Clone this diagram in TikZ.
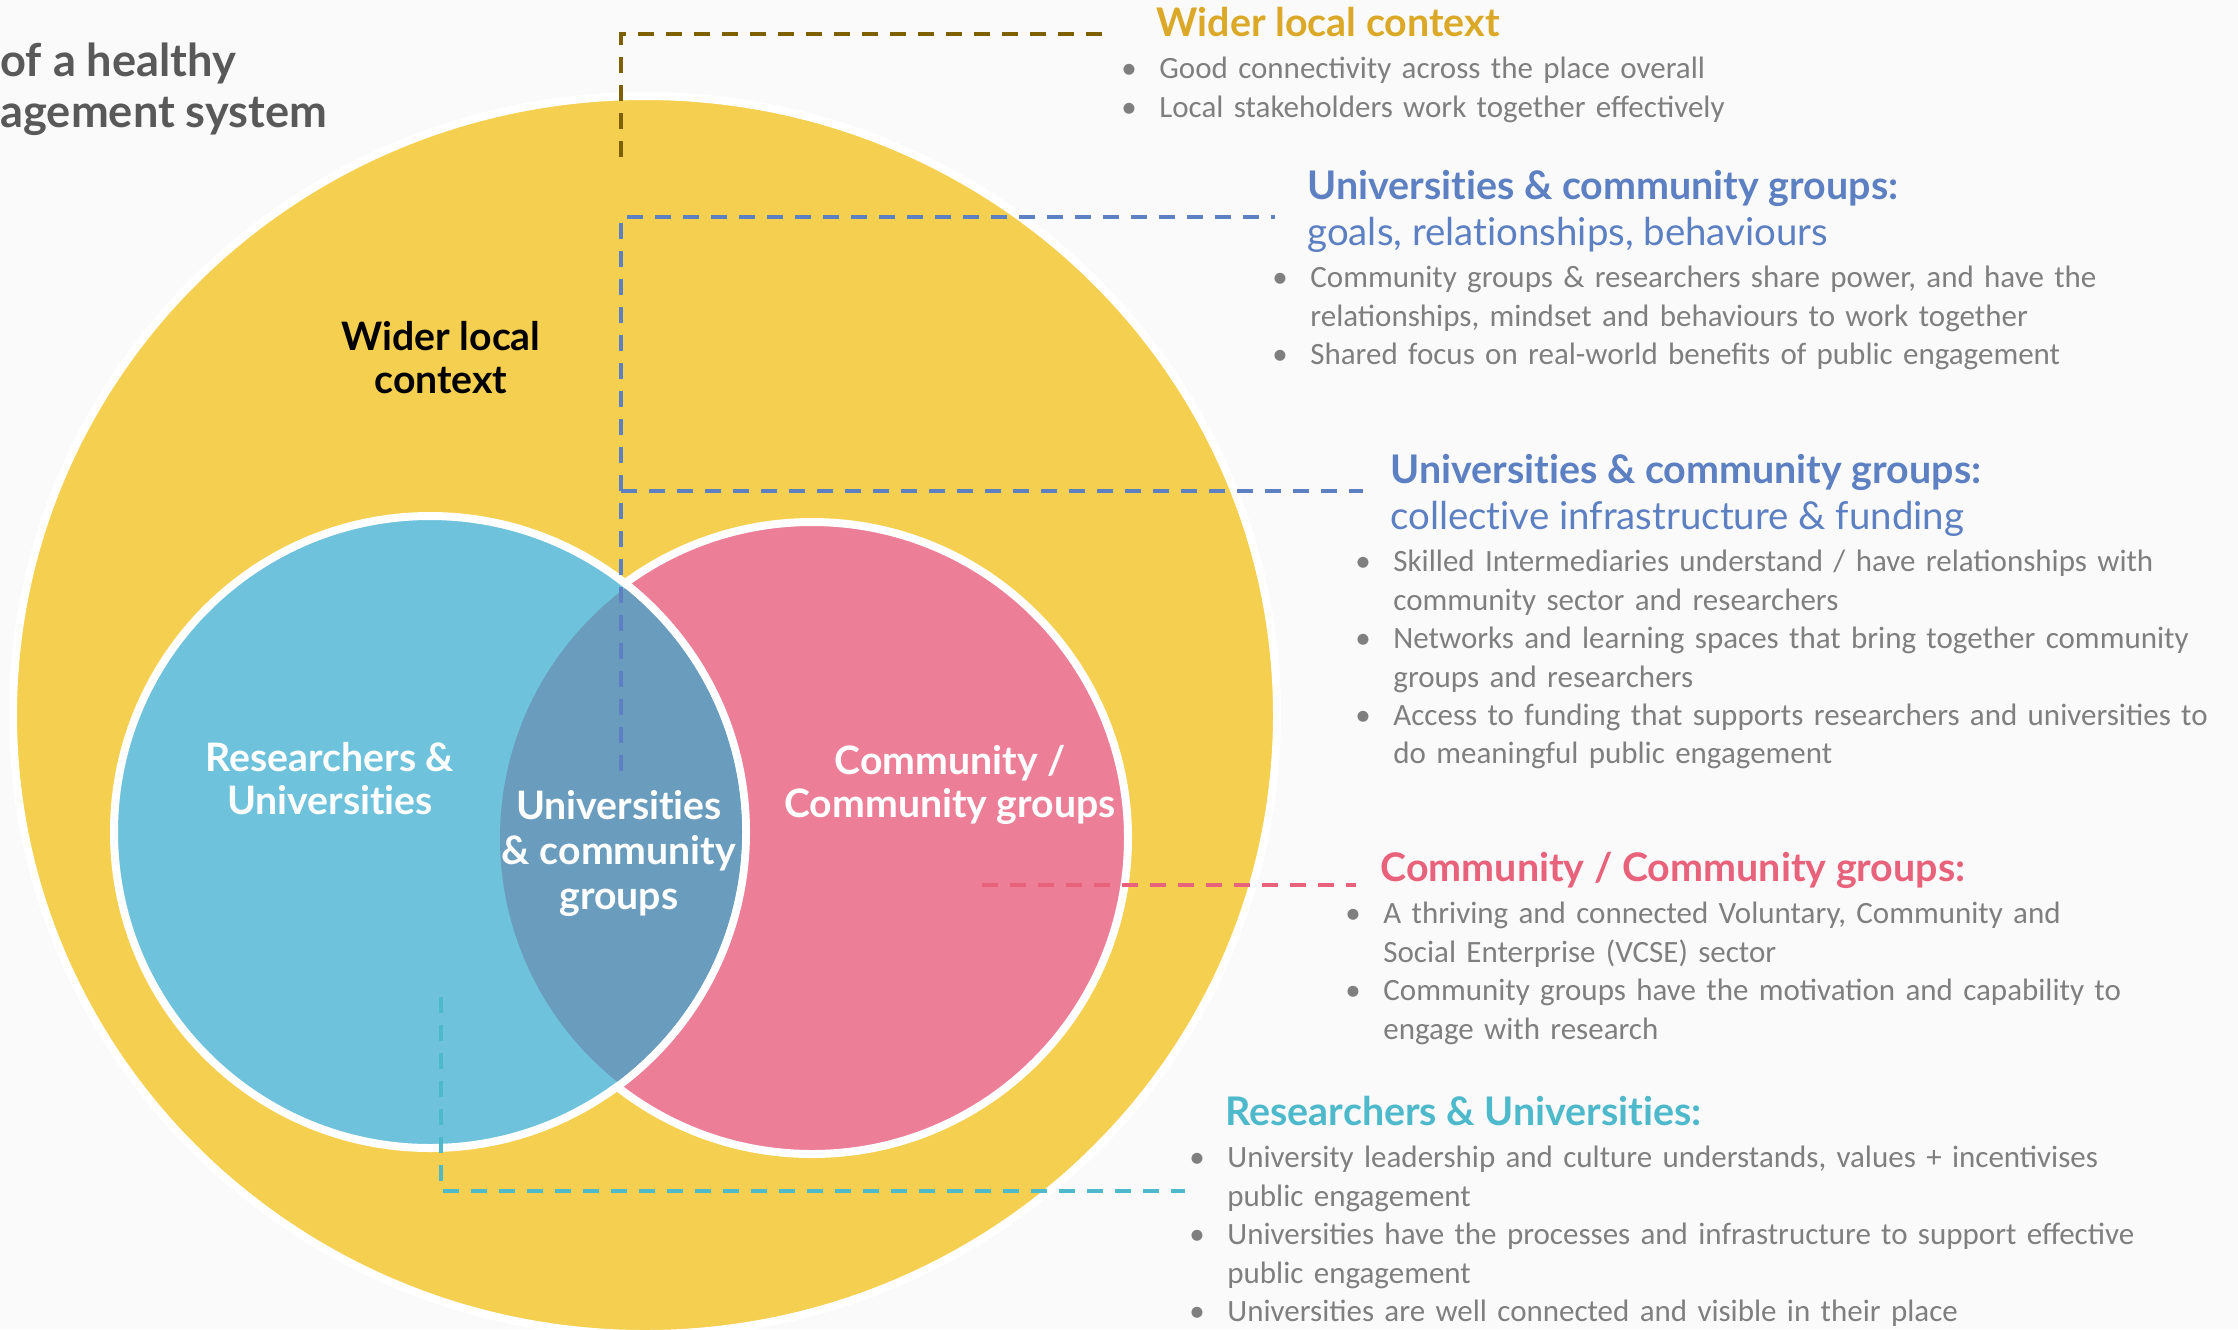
\documentclass[tikz,border=0pt]{standalone}
\usepackage{fontspec}
\setmainfont{Carlito}
\newfontfamily\headfont[Ligatures=NoCommon]{Lato}
\usetikzlibrary{positioning, shapes.geometric}

\definecolor{pageBg}{HTML}{FAFAFA}
\definecolor{widerYellow}{HTML}{F5CF4F}
\definecolor{resBlue}{HTML}{6EC2DC}
\definecolor{comPink}{HTML}{EC7F97}
\definecolor{lensBlue}{HTML}{6A9CBD}
\definecolor{goldHead}{HTML}{DBA927}
\definecolor{brownLine}{HTML}{7F6000}
\definecolor{uniBlue}{HTML}{5C80C2}
\definecolor{pinkHead}{HTML}{E8627C}
\definecolor{cyanHead}{HTML}{4DB9CB}
\definecolor{bodyGrey}{HTML}{7F7F7F}
\definecolor{titleGrey}{HTML}{595959}

% one bullet point with a hanging indent
\newcommand{\bpt}[1]{\par\hangindent=19pt\hangafter=1\noindent
  \makebox[19pt][l]{\textbullet}\strut#1\par}

\begin{document}
\begin{tikzpicture}[x=0.5pt, y=-0.5pt,
  head/.style={anchor=base west, inner sep=0pt,
    font=\headfont\bfseries\fontsize{19.7}{23}\selectfont},
  subhead/.style={anchor=base west, inner sep=0pt,
    font=\headfont\fontsize{19.2}{23}\selectfont},
  blist/.style={anchor=north west, inner sep=0pt, align=left, text=bodyGrey,
    font=\fontsize{15.5}{19.2}\selectfont},
  zone/.style={circle, draw=white, line width=4pt, minimum size=316pt,
    inner sep=0pt},
  zonelabel/.style={align=center, inner sep=0pt,
    font=\headfont\bfseries\fontsize{19.6}{21.5}\selectfont},
  leader/.style={line width=2pt, dash pattern=on 8pt off 6pt}]

  \useasboundingbox (0,0) rectangle (2238,1329);
  \fill[pageBg] (0,0) rectangle (2238,1329);

  % title, partly off the page edge
  \node[anchor=west, align=left, inner sep=0pt, text=titleGrey,
    font=\headfont\bfseries\fontsize{22.6}{25.5}\selectfont] (title) at (0,89)
    {of a healthy\\agement system};

  % the three zones
  \node[ellipse, draw=white, line width=4pt, fill=widerYellow,
    minimum width=632pt, minimum height=619pt, inner sep=0pt] (wider) at (645,715) {};
  \node[zone, fill=comPink] (com) at (812,838) {};
  \node[zone, fill=resBlue] (res) at (430,832) {};
  \begin{scope}
    \clip (res.center) circle[radius=312];
    \fill[lensBlue] (com.center) circle[radius=312];
  \end{scope}

  \node[zonelabel] (widerlab) at (441,358) {Wider local\\context};
  \node[zonelabel, white] (reslab) at (330,779) {Researchers \&\\Universities};
  \node[zonelabel, white, font=\headfont\bfseries\fontsize{19.6}{22.5}\selectfont]
    (lenslab) at (619,853) {Universities\\\& community\\groups};
  \node[zonelabel, white] (comlab) at (950,785) {Community /\\Community groups};

  % leader lines
  \coordinate (w1) at (621,157);
  \coordinate (w2) at (1110,34);
  \coordinate (u1) at (621,771);
  \coordinate (u2) at (1275,217);
  \coordinate (u3) at (621,491);
  \coordinate (u4) at (1363,491);
  \coordinate (c1) at (982,885);
  \coordinate (c2) at (1356,885);
  \coordinate (r1) at (441,997);
  \coordinate (r2) at (1185,1191);
  \draw[leader, brownLine] (w1) |- (w2);
  \draw[leader, uniBlue] (u1) |- (u2);
  \draw[leader, uniBlue] (u3) -- (u4);
  \draw[leader, pinkHead] (c1) -- (c2);
  \draw[leader, cyanHead] (r1) |- (r2);

  % wider local context
  \node[head, text=goldHead] (h1) at (1156,36) {Wider local context};
  \node[blist, text width=420pt, below right=2pt and -17.5pt of h1.base west] (b1) {
    \bpt{Good connectivity across the place overall}
    \bpt{Local stakeholders work together effectively}};

  % universities & community groups: goals
  \node[head, text=uniBlue] (h2) at (1307,199) {Universities \& community groups:};
  \node[subhead, text=uniBlue, below=23pt of h2.base west, anchor=base west] (s2)
    {goals, relationships, behaviours};
  \node[blist, text width=460pt, below right=2pt and -17.5pt of s2.base west] (b2) {
    \bpt{Community groups \& researchers share power, and have the\newline
      relationships, mindset and behaviours to work together}
    \bpt{Shared focus on real-world benefits of public engagement}};

  % universities & community groups: infrastructure
  \node[head, text=uniBlue] (h3) at (1390,483) {Universities \& community groups:};
  \node[subhead, text=uniBlue, below=23pt of h3.base west, anchor=base west] (s3)
    {collective infrastructure \& funding};
  \node[blist, text width=435pt, below right=2pt and -17.5pt of s3.base west] (b3) {
    \bpt{Skilled Intermediaries understand / have relationships with\newline
      community sector and researchers}
    \bpt{Networks and learning spaces that bring together community\newline
      groups and researchers}
    \bpt{Access to funding that supports researchers and universities to\newline
      do meaningful public engagement}};

  % community groups
  \node[head, text=pinkHead] (h4) at (1380,881) {Community / Community groups:};
  \node[blist, text width=430pt, below right=2pt and -17.5pt of h4.base west] (b4) {
    \bpt{A thriving and connected Voluntary, Community and\newline
      Social Enterprise (VCSE) sector}
    \bpt{Community groups have the motivation and capability to\newline
      engage with research}};

  % researchers & universities
  \node[head, text=cyanHead] (h5) at (1225,1125) {Researchers \& Universities:};
  \node[blist, text width=505pt, below right=2pt and -18pt of h5.base west] (b5) {
    \bpt{University leadership and culture understands, values + incentivises\newline
      public engagement}
    \bpt{Universities have the processes and infrastructure to support effective\newline
      public engagement}
    \bpt{Universities are well connected and visible in their place}};
\end{tikzpicture}
\end{document}
